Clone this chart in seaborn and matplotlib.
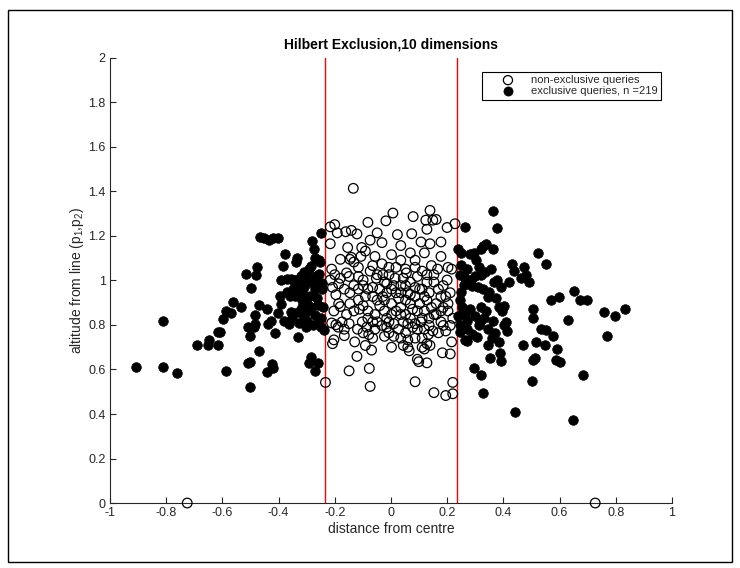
import numpy as np
import pandas as pd
import matplotlib
matplotlib.use('Agg')
import matplotlib.pyplot as plt
from matplotlib.patches import Rectangle
import seaborn as sns

# exclusive queries (filled)
excl_x = [-0.906, -0.812, -0.812, -0.762, -0.690, -0.648, -0.651, -0.616, -0.616, -0.607,
          -0.596, -0.586, -0.571, -0.562, -0.586, -0.532, -0.517, -0.510, -0.510, -0.502,
          -0.503, -0.500, -0.498, -0.487, -0.485, -0.480, -0.478, -0.485, -0.471, -0.468,
          -0.465, -0.451, -0.435, -0.421, -0.401, -0.440, -0.440, -0.438, -0.428, -0.424,
          -0.418, -0.414, -0.401, -0.394, -0.391, -0.391, -0.384, -0.377, -0.371, -0.364,
          -0.357, -0.354, -0.351, -0.347, -0.342, -0.337, -0.334, -0.331, -0.331, -0.327,
          -0.322, -0.317, -0.312, -0.309, -0.304, -0.300, -0.297, -0.292, -0.289, -0.285,
          -0.284, -0.280, -0.275, -0.273, -0.270, -0.270, -0.267, -0.263, -0.258, -0.253,
          -0.250, -0.250, -0.247, -0.242, -0.240, -0.300, -0.284, -0.317,
          -0.360, -0.350, -0.330, -0.325, -0.320, -0.310, -0.305, -0.300, -0.290, -0.280,
          -0.278, -0.270, -0.260, -0.255, -0.248, -0.245, -0.290, -0.310, -0.340, -0.370,
          -0.380, -0.260, -0.270, -0.255,
          0.237, 0.262, 0.250, 0.270, 0.245, 0.262, 0.245, 0.253, 0.262, 0.245,
          0.270, 0.262, 0.287, 0.295, 0.304, 0.312, 0.320, 0.320, 0.329, 0.337,
          0.295, 0.307, 0.320, 0.326, 0.317, 0.329, 0.337, 0.346, 0.346, 0.354,
          0.362, 0.362, 0.367, 0.371, 0.379, 0.379, 0.384, 0.387, 0.393, 0.396,
          0.401, 0.404, 0.408, 0.413, 0.421, 0.430, 0.438, 0.441, 0.463, 0.471,
          0.475, 0.480, 0.492, 0.502, 0.505, 0.505, 0.513, 0.505, 0.518, 0.525,
          0.535, 0.547, 0.552, 0.552, 0.569, 0.576, 0.589, 0.592, 0.597, 0.602,
          0.631, 0.648, 0.653, 0.673, 0.685, 0.698, 0.757, 0.770, 0.799, 0.832,
          0.250, 0.255, 0.260, 0.270, 0.280, 0.285, 0.290, 0.300, 0.310, 0.315,
          0.320, 0.330, 0.335, 0.345, 0.350, 0.365, 0.375, 0.385, 0.390, 0.250,
          0.280, 0.240, 0.245, 0.270, 0.300, 0.355, 0.360]
excl_y = [0.612, 0.612, 0.819, 0.586, 0.708, 0.733, 0.708, 0.708, 0.768, 0.768,
          0.825, 0.863, 0.855, 0.904, 0.592, 0.883, 1.029, 0.790, 0.630, 0.635,
          0.522, 0.752, 0.966, 0.790, 0.847, 1.026, 1.062, 0.806, 0.684, 0.891,
          1.197, 1.189, 1.181, 1.189, 1.192, 0.874, 0.589, 0.803, 0.817, 0.625,
          0.605, 0.765, 0.855, 0.931, 0.896, 1.002, 1.067, 1.121, 1.007, 0.803,
          0.860, 1.007, 0.830, 1.002, 0.931, 1.083, 1.099, 0.744, 0.972, 0.811,
          0.993, 0.912, 0.961, 0.838, 0.790, 1.018, 0.896, 0.630, 0.931, 1.067,
          0.654, 1.176, 0.985, 1.140, 0.847, 0.594, 1.018, 0.920, 0.630, 1.083,
          1.214, 0.790, 0.961, 0.879, 0.778, 0.863, 0.879, 0.879,
          0.930, 0.960, 0.860, 0.950, 1.020, 0.920, 0.980, 0.820, 0.870, 1.000,
          0.800, 0.960, 0.890, 1.030, 0.830, 0.990, 1.050, 1.040, 1.000, 0.950,
          0.820, 0.810, 1.100, 1.090,
          1.140, 1.241, 1.124, 1.051, 1.026, 1.010, 0.912, 0.879, 0.847, 0.798,
          0.781, 0.733, 0.977, 1.124, 1.091, 1.059, 1.140, 1.026, 1.156, 1.164,
          0.605, 0.745, 0.577, 0.496, 0.814, 0.961, 0.863, 0.928, 0.708, 0.651,
          1.312, 1.140, 0.993, 0.765, 1.238, 1.002, 0.724, 0.675, 0.638, 0.863,
          0.798, 0.887, 0.814, 0.773, 0.993, 1.075, 1.042, 0.409, 1.010, 0.708,
          1.059, 1.026, 0.993, 0.548, 0.871, 0.830, 0.651, 0.643, 0.724, 1.124,
          0.781, 0.708, 1.075, 0.778, 0.912, 0.752, 0.643, 0.692, 0.928, 0.635,
          0.822, 0.374, 0.953, 0.912, 0.577, 0.912, 0.860, 0.749, 0.842, 0.871,
          0.950, 0.860, 0.980, 0.820, 0.870, 1.000, 0.760, 0.840, 0.970, 0.800,
          0.880, 0.830, 1.040, 0.780, 0.950, 0.820, 0.920, 0.880, 0.970, 1.070,
          1.120, 0.840, 0.770, 0.730, 1.020, 1.050, 0.740]

# non-exclusive queries (open)
nonex_x = [-0.725, 0.727, -0.233, -0.134, -0.216, -0.200, -0.216, -0.191, -0.161, -0.141,
           -0.121, -0.082, -0.049, -0.018, 0.007, 0.023, 0.079, 0.074, 0.139, 0.149,
           0.161, 0.124, 0.128, 0.200, 0.228, 0.178, 0.139, 0.107, 0.035, -0.032,
           -0.074, -0.154, -0.104, -0.091, -0.180, -0.141, -0.146, -0.211, -0.158, -0.149,
           -0.216, -0.208, -0.186, -0.196, -0.186, -0.180, -0.203, -0.146, -0.112, -0.211,
           -0.196, -0.188, -0.166, -0.166, -0.203, -0.208, -0.129, -0.119, -0.102, -0.086,
           -0.079, -0.065, -0.091, -0.069, -0.121, -0.149, -0.077, -0.074, -0.023, -0.015,
           -0.007, 0.035, 0.044, 0.060, 0.065, 0.094, 0.099, 0.119, 0.128, 0.139,
           0.128, 0.086, 0.153, 0.195, 0.220, 0.220, 0.183, 0.211, 0.216, 0.195,
           0.211, 0.220, 0.203, 0.203, 0.211, 0.200, 0.203, 0.216, 0.178, 0.166,
           0.144, 0.119, 0.086, 0.069, 0.086, 0.055, 0.035, 0.002, -0.007, -0.029,
           -0.052, -0.065, -0.074, -0.099, -0.116, -0.132, -0.146, -0.065, -0.040, -0.029,
           -0.015, 0.002, 0.015, 0.027, 0.035, 0.052, 0.044, 0.069, 0.077, 0.094,
           0.111, 0.119, 0.136, 0.149, 0.161, 0.178, 0.169, 0.153, 0.128, 0.102,
           0.086, 0.069, 0.060, 0.052, 0.018, 0.002, -0.015, -0.023, -0.040, -0.057,
           -0.082, -0.099, -0.091, -0.099, -0.065, -0.049, 0.002, 0.018, 0.035, 0.052,
           0.077, 0.102, 0.119, 0.136, 0.144, 0.161, 0.178, 0.186, 0.169, 0.133,
           0.111, 0.086, 0.052, 0.027, 0.010, -0.032, -0.049, -0.057, -0.116, -0.132,
           -0.158, -0.174, -0.149, -0.166, -0.180, -0.200, -0.116, -0.132, -0.107, -0.057,
           -0.032, 0.018, 0.044, 0.069, 0.094, 0.111, 0.128, 0.153, 0.186, 0.195,
           0.186, 0.178, 0.153, 0.136, 0.119, 0.107, -0.082, -0.065, -0.099, -0.007,
           0.010, 0.060, 0.086, 0.111, 0.002, -0.116, -0.082, -0.049, -0.023, -0.007,
           0.052, 0.010, -0.015, -0.023, 0.035, 0.069, 0.086, 0.111, 0.128, 0.094,
           0.060, 0.035]
nonex_y = [0.000, 0.000, 0.542, 1.414, 1.241, 1.251, 1.165, 1.214, 1.219, 1.225,
           1.209, 1.261, 1.214, 1.268, 1.303, 1.206, 1.287, 1.210, 1.315, 1.271,
           1.274, 1.271, 1.230, 1.238, 1.255, 1.173, 1.165, 1.173, 1.157, 1.170,
           1.181, 1.148, 1.148, 1.132, 1.095, 1.104, 1.095, 1.051, 1.034, 1.018,
           1.002, 0.969, 0.985, 0.936, 0.896, 0.883, 0.863, 0.896, 0.871, 0.809,
           0.801, 0.790, 0.781, 0.752, 0.733, 0.716, 0.724, 0.781, 0.814, 0.790,
           0.757, 0.741, 0.708, 0.687, 0.659, 0.594, 0.605, 0.524, 0.749, 0.790,
           0.814, 0.741, 0.708, 0.700, 0.684, 0.646, 0.635, 0.692, 0.716, 0.708,
           0.630, 0.545, 0.496, 0.483, 0.491, 0.542, 0.675, 0.670, 0.724, 0.773,
           0.798, 0.830, 0.863, 0.896, 0.945, 1.002, 1.059, 1.051, 1.108, 1.051,
           1.067, 1.124, 1.091, 1.124, 1.059, 1.034, 1.091, 1.116, 1.059, 1.026,
           1.010, 1.067, 1.042, 1.002, 0.961, 0.977, 0.945, 0.928, 0.961, 0.928,
           0.985, 0.961, 1.010, 0.920, 0.879, 0.847, 0.814, 0.830, 0.790, 0.781,
           0.830, 0.863, 0.830, 0.773, 0.896, 0.928, 0.961, 0.993, 0.993, 0.961,
           0.928, 0.896, 0.945, 0.977, 0.863, 0.847, 0.830, 0.863, 0.887, 0.847,
           0.863, 0.887, 0.928, 0.977, 0.969, 0.912, 0.896, 0.945, 0.977, 0.912,
           0.871, 0.896, 0.928, 0.945, 0.879, 0.847, 0.814, 0.798, 0.765, 0.757,
           0.741, 0.806, 0.765, 0.781, 0.806, 0.798, 0.814, 0.781, 0.912, 0.863,
           0.847, 0.814, 0.806, 0.961, 1.010, 1.026, 1.059, 1.083, 1.108, 1.108,
           1.075, 1.059, 1.010, 0.993, 1.018, 1.042, 1.026, 1.026, 0.977, 0.928,
           0.879, 0.863, 0.847, 0.798, 0.781, 0.814, 0.830, 0.814, 0.765, 0.765,
           0.749, 0.733, 0.741, 0.700, 0.700, 1.018, 0.961, 1.026, 0.993, 1.026,
           1.051, 0.977, 0.945, 0.912, 0.945, 0.937, 0.969, 0.961, 0.912, 0.863,
           0.806, 0.847]

boundary = 0.235
x_ticks = [-1, -0.8, -0.6, -0.4, -0.2, 0, 0.2, 0.4, 0.6, 0.8, 1]
y_ticks = [0, 0.2, 0.4, 0.6, 0.8, 1, 1.2, 1.4, 1.6, 1.8, 2]

sns.set_theme(style='ticks')
plt.rcParams['font.family'] = ['Liberation Sans', 'DejaVu Sans']
plt.rcParams['mathtext.fontset'] = 'custom'
plt.rcParams['mathtext.rm'] = 'Liberation Sans'
plt.rcParams['mathtext.it'] = 'Liberation Sans:italic'

grey = '#262626'
fig = plt.figure(figsize=(7.4, 5.68), dpi=100)
ax = fig.add_axes([0.1486, 0.1144, 0.7594, 0.7836])

sns.scatterplot(x=nonex_x, y=nonex_y, ax=ax, s=48, marker='o',
                facecolors='none', edgecolor='black', linewidth=0.9,
                label='non-exclusive queries', zorder=3, clip_on=False)
sns.scatterplot(x=excl_x, y=excl_y, ax=ax, s=48, marker='o', color='black',
                edgecolor='black', linewidth=0.5,
                label='exclusive queries, n =219', zorder=3, clip_on=False)

ax.axvline(-boundary, color='red', lw=1.0, zorder=2)
ax.axvline(boundary, color='red', lw=1.0, zorder=2)

ax.set_xlim(-1, 1)
ax.set_ylim(0, 2)
ax.set_xticks(x_ticks)
ax.set_yticks(y_ticks)
ax.set_xticklabels(['%g' % v for v in x_ticks])
ax.set_yticklabels(['%g' % v for v in y_ticks])
ax.tick_params(which='both', direction='in', length=4, width=0.8, labelsize=9,
               colors=grey, pad=3)
sns.despine(ax=ax)
for sp in ('left', 'bottom'):
    ax.spines[sp].set_color(grey)
    ax.spines[sp].set_linewidth(0.8)

ax.set_title('Hilbert Exclusion,10 dimensions', fontsize=10, fontweight='bold',
             color='black', pad=7)
ax.set_xlabel('distance from centre', fontsize=10, color=grey, labelpad=2)
ax.set_ylabel('altitude from line (p$_1$,p$_2$)', fontsize=10, color=grey, labelpad=2)

leg = ax.legend(loc='upper right', bbox_to_anchor=(0.980, 0.969), borderaxespad=0,
                fontsize=8, frameon=True, fancybox=False, edgecolor='black',
                framealpha=1, borderpad=0.3, handletextpad=0.0, labelspacing=0.1,
                handlelength=4.1, markerscale=0.95)
leg.get_frame().set_linewidth(0.8)
for t in leg.get_texts():
    t.set_color(grey)

fig.patches.append(Rectangle((0.011, 0.011), 0.978, 0.971, transform=fig.transFigure,
                             fill=False, edgecolor='black', lw=1.0))

fig.savefig('out.png', dpi=100)
